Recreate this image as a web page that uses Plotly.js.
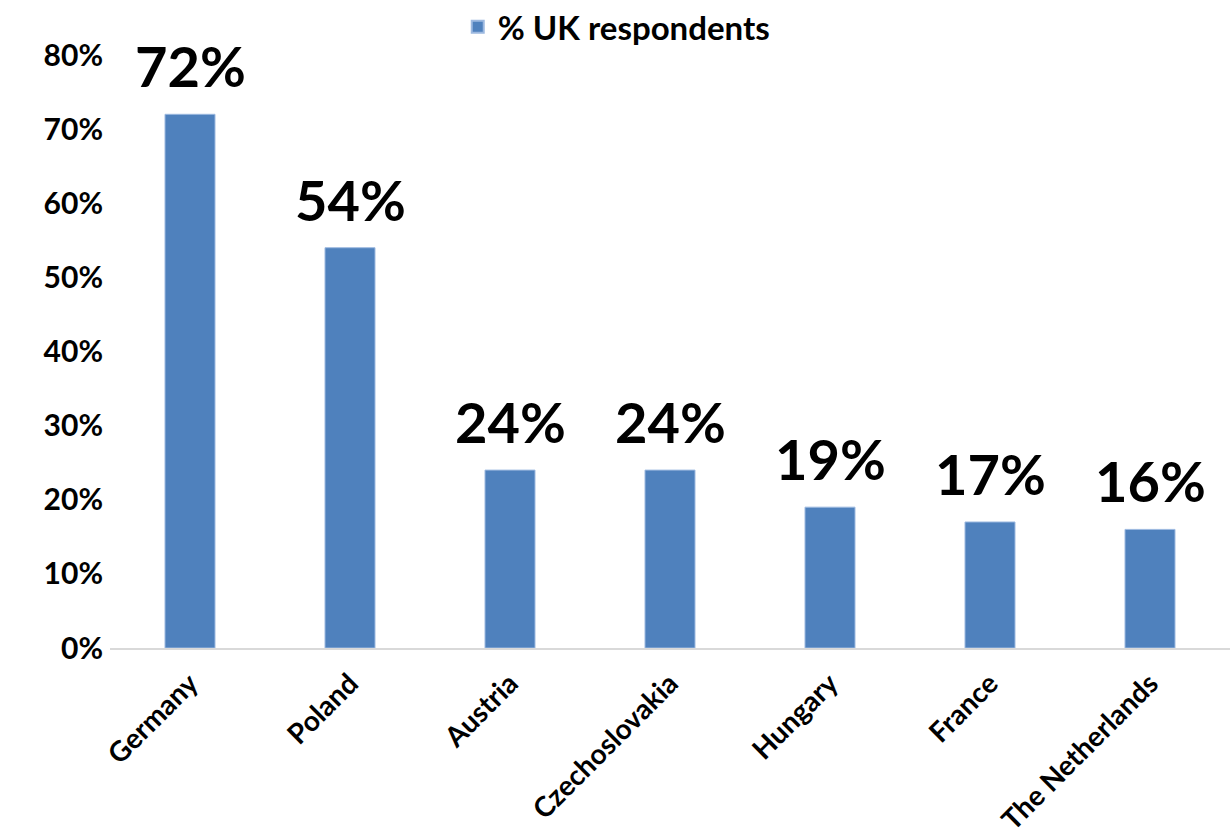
<!DOCTYPE html>
<html>
<head>
<meta charset="utf-8">
<script src="https://cdn.plot.ly/plotly-3.0.1.min.js"></script>
<style>html,body{margin:0;padding:0;background:#fff;}#chart{width:1230px;height:840px;}</style>
</head>
<body>
<div id="chart"></div>
<script>
const categories = ["Germany", "Poland", "Austria", "Czechoslovakia", "Hungary", "France", "The Netherlands"];
const values = [0.72, 0.54, 0.24, 0.24, 0.19, 0.17, 0.16];
const labels = ["72%", "54%", "24%", "24%", "19%", "17%", "16%"];
const seriesName = "% UK respondents";
const yTickVals = [0, 0.1, 0.2, 0.3, 0.4, 0.5, 0.6, 0.7, 0.8];
const yTickText = ["0%", "10%", "20%", "30%", "40%", "50%", "60%", "70%", "80%"];

const FONT = "Lato, 'Open Sans', sans-serif";

const trace = {
  type: "bar",
  x: categories,
  y: values,
  name: seriesName,
  marker: {color: "#4F81BD", line: {color: "#9DB9E0", width: 1}},
  hoverinfo: "skip"
};

const annotations = categories.map((c, i) => ({
  x: c, y: values[i], xref: "x", yref: "y",
  text: "<b>" + labels[i] + "</b>",
  showarrow: false, yanchor: "bottom", yshift: 13,
  font: {family: FONT, size: 56, color: "#000"}
}));

const layout = {
  width: 1230, height: 840,
  margin: {l: 110, r: 0, t: 55, b: 192},
  paper_bgcolor: "#fff", plot_bgcolor: "#fff",
  bargap: 0.6875,
  showlegend: true,
  legend: {
    orientation: "h", x: 0.452, xanchor: "center",
    yref: "container", y: 0.968, yanchor: "middle",
    font: {family: FONT, size: 33, color: "#000", weight: "bold"},
    itemsizing: "constant"
  },
  xaxis: {
    type: "category",
    tickangle: -45,
    tickfont: {family: FONT, size: 28, color: "#000", weight: "bold"},
    showline: true, linecolor: "#D9D9D9", linewidth: 2,
    ticks: "", showgrid: false, zeroline: false,
    ticklabelstandoff: 6
  },
  yaxis: {
    range: [0, 0.8],
    tickvals: yTickVals, ticktext: yTickText,
    tickfont: {family: FONT, size: 30, color: "#000", weight: "bold"},
    showgrid: false, zeroline: false, showline: false, ticks: "",
    ticklabelstandoff: 6
  },
  annotations: annotations
};

Plotly.newPlot("chart", [trace], layout, {displayModeBar: false, staticPlot: true});
</script>
</body>
</html>
